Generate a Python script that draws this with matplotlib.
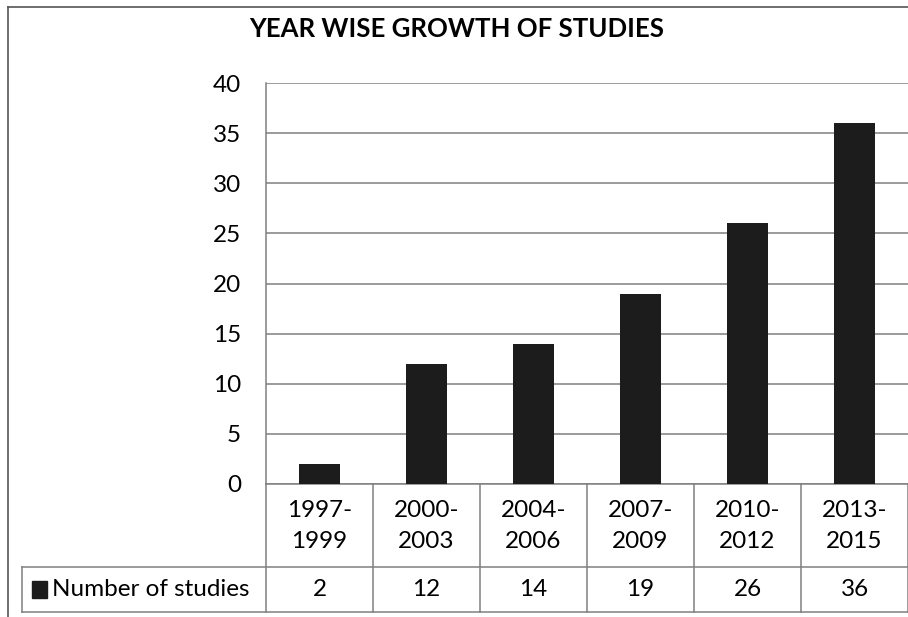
import matplotlib
matplotlib.use("Agg")
import matplotlib.pyplot as plt

periods = ["1997-\n1999", "2000-\n2003", "2004-\n2006", "2007-\n2009", "2010-\n2012", "2013-\n2015"]
studies = [2, 12, 14, 19, 26, 36]
series_name = "Number of studies"
yticks = [0, 5, 10, 15, 20, 25, 30, 35, 40]

plt.rcParams["font.family"] = ["Lato", "DejaVu Sans"]

W, H = 908, 617
fig = plt.figure(figsize=(W / 100, H / 100), dpi=100)

# plot area in pixel terms
left, right, top, bottom = 266, 908, 83, 484
ax = fig.add_axes([left / W, 1 - bottom / H, (right - left) / W, (bottom - top) / H])

x = list(range(len(studies)))
ax.bar(x, studies, width=0.39, color="#1c1c1c", zorder=3)
ax.set_xlim(-0.5, len(studies) - 0.5)
ax.set_ylim(0, 40)
ax.set_yticks(yticks)
ax.set_yticklabels([str(v) for v in yticks], fontsize=17.5)
ax.tick_params(axis="y", length=0, pad=18)
ax.set_xticks([])
ax.grid(axis="y", color="#808080", linewidth=1.1, zorder=0)
for s in ["top", "right"]:
    ax.spines[s].set_visible(False)
for s in ["left", "bottom"]:
    ax.spines[s].set_color("#808080")
    ax.spines[s].set_linewidth(1.1)

# data table under the plot
def yfrac(py):
    return (bottom - py) / (bottom - top)

def xfrac(px):
    return (px - left) / (right - left)

row1, row2 = yfrac(567), yfrac(612)
kw = dict(transform=ax.transAxes, color="#808080", linewidth=1.1, clip_on=False)
n = len(studies)
for i in range(n + 1):
    ax.plot([i / n, i / n], [0, row2], **kw)
ax.plot([xfrac(22), 1], [row1, row1], **kw)
ax.plot([xfrac(22), 1], [row2, row2], **kw)
ax.plot([xfrac(22), xfrac(22)], [row1, row2], **kw)

for i, (p, v) in enumerate(zip(periods, studies)):
    ax.text((i + 0.5) / n, yfrac(526), p, transform=ax.transAxes, ha="center", va="center",
            fontsize=17.5, linespacing=1.6)
    ax.text((i + 0.5) / n, yfrac(590), str(v), transform=ax.transAxes, ha="center", va="center",
            fontsize=17.5)

# legend key in the first column
ax.add_patch(plt.Rectangle((xfrac(32), yfrac(598)), xfrac(47) - xfrac(32), yfrac(581) - yfrac(598),
                           transform=ax.transAxes, color="#1c1c1c", clip_on=False))
ax.text(xfrac(52), yfrac(590), series_name, transform=ax.transAxes, ha="left", va="center",
        fontsize=17.5)

# chart border
fig.add_artist(plt.Line2D([8 / W, 8 / W], [0, 1 - 7 / H], color="#555555", linewidth=1.2))
fig.add_artist(plt.Line2D([8 / W, 1], [1 - 7 / H, 1 - 7 / H], color="#555555", linewidth=1.2))

fig.text(457 / W, 1 - 29 / H, "YEAR WISE GROWTH OF STUDIES", ha="center", va="center",
         fontsize=18.5, fontweight="bold")

fig.savefig("out.png", dpi=100)
